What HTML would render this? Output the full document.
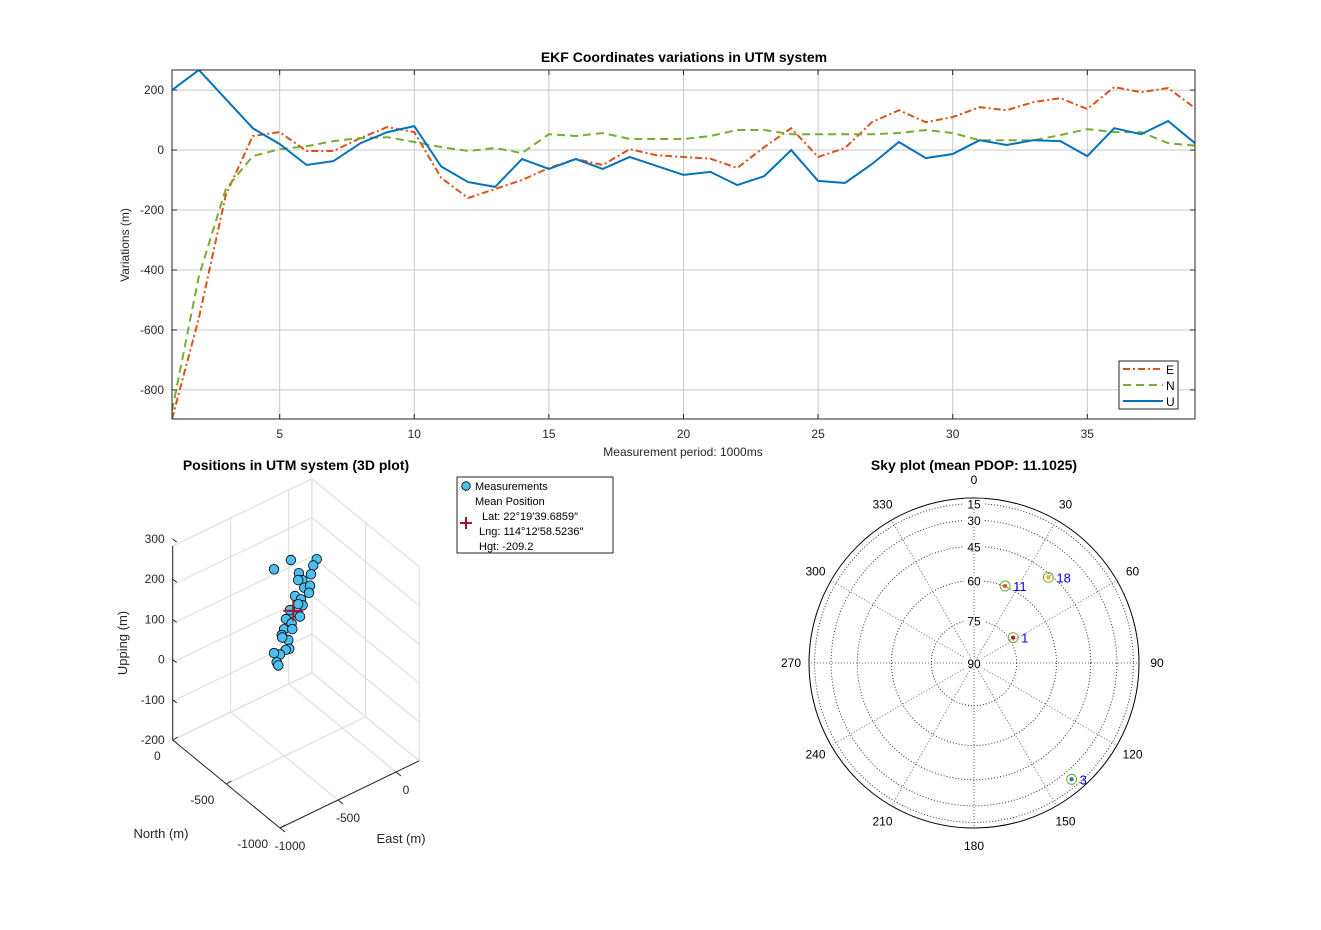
<!DOCTYPE html>
<html><head><meta charset="utf-8">
<style>
html,body{margin:0;padding:0;background:#fff;}
svg{display:block;font-family:"Liberation Sans","DejaVu Sans",sans-serif;}
</style></head>
<body>
<svg id="fig" width="1321" height="930" viewBox="0 0 1321 930" xmlns="http://www.w3.org/2000/svg">
<rect x="0" y="0" width="1321" height="930" fill="#fff"/>
<g id="top"></g>
<g id="p3d"></g>
<g id="sky"></g>
</svg>
<script>
// ---- top chart data ----
const epochs = [1,2,3,4,5,6,7,8,9,10,11,12,13,14,15,16,17,18,19,20,21,22,23,24,25,26,27,28,29,30,31,32,33,34,35,36,37,38,39];
const eastVals = [-897,-560,-150,47,60,-3,-3,40,77,60,-93,-160,-130,-100,-60,-30,-50,3,-17,-23,-29,-60,10,73,-23,7,93,133,93,110,143,133,160,173,137,210,193,207,140];
const northVals = [-870,-420,-130,-20,3,13,30,40,43,27,10,-3,7,-10,53,47,57,37,37,37,47,67,67,53,53,53,53,57,67,57,33,33,33,50,70,60,60,23,15];
const upVals = [200,267,170,73,20,-50,-37,23,60,80,-55,-107,-123,-30,-63,-30,-63,-23,-53,-83,-73,-117,-87,0,-103,-110,-47,27,-27,-13,33,17,33,30,-20,73,53,97,23];
const xTicks = [5,10,15,20,25,30,35];
const yTicks = [-800,-600,-400,-200,0,200];
// ---- 3D plot data ----
const measE = [-543,-397,-175,-204,-328,-224,-299,-334,-282,-233,-241,-362,-310,-296,-334,-391,-319,-440,-391,-457,-385,-477,-420,-472,-411,-442,-491,-543,-520,-506,-405];
const measN = [-450,-450,-450,-450,-450,-450,-450,-450,-450,-450,-450,-450,-450,-450,-450,-450,-450,-450,-450,-450,-450,-450,-450,-450,-450,-450,-450,-450,-450,-450,-450];
const measU = [276,279,249,237,235,217,213,218,191,189,172,181,165,148,156,141,122,133,115,109,99,97,76,90,52,54,49,60,33,23,151];
const meanPos = [-377,-450,145];
const zTicks = [-200,-100,0,100,200,300];
const nTicks = [0,-500,-1000];
const eTicks = [-1000,-500,0];
// ---- sky plot data ----
const satIds = ["1","11","18","3"];
const satAz = [57,22,41,140];
const satEl = [73.6,59.8,46.6,23];
const satColors = ["#a2142f","#d95319","#edb120","#0072bd"];
const elevRings = [15,30,45,60,75];
const elevLabels = [15,30,45,60,75,90];
const azLabels = [0,30,60,90,120,150,180,210,240,270,300,330];

const NS="http://www.w3.org/2000/svg";
function mk(parent,tag,attrs,text){const e=document.createElementNS(NS,tag);for(const k in attrs)e.setAttribute(k,attrs[k]);if(text!==undefined)e.textContent=text;parent.appendChild(e);return e;}

// ===== top chart =====
(function(){
const g=document.getElementById('top');
const L=172,R=1195,T=70,B=419,xmin=1,xmax=39,ymin=-897,ymax=267;
const X=v=>L+(v-xmin)/(xmax-xmin)*(R-L);
const Y=v=>B-(v-ymin)/(ymax-ymin)*(B-T);
let t;
t=mk(g,'text',{x:684,y:62,'text-anchor':'middle','font-size':14,'font-weight':'bold',fill:'#000'},'EKF Coordinates variations in UTM system');

xTicks.forEach(v=>{
 let l=mk(g,'line',{x1:X(v),x2:X(v),y1:T,y2:B,stroke:'#c8c8c8','stroke-width':1});
 
 mk(g,'line',{x1:X(v),x2:X(v),y1:B,y2:B-5,stroke:'#262626'});
 mk(g,'line',{x1:X(v),x2:X(v),y1:T,y2:T+5,stroke:'#262626'});
 let tx=mk(g,'text',{x:X(v),y:B+19,'text-anchor':'middle','font-size':12,fill:'#262626'},String(v));
 
});
yTicks.forEach(v=>{
 let l=mk(g,'line',{x1:L,x2:R,y1:Y(v),y2:Y(v),stroke:'#c8c8c8','stroke-width':1});
 
 mk(g,'line',{x1:L,x2:L+5,y1:Y(v),y2:Y(v),stroke:'#262626'});
 mk(g,'line',{x1:R,x2:R-5,y1:Y(v),y2:Y(v),stroke:'#262626'});
 let tx=mk(g,'text',{x:L-8,y:Y(v)+4,'text-anchor':'end','font-size':12,fill:'#262626'},String(v));
 
});
const series=[[eastVals,'#d95319','7 3 2 3','line-east'],[northVals,'#77ac30','8 5','line-north'],[upVals,'#0072bd','','line-up']];
const clip=mk(g,'clipPath',{id:'topclip'});mk(clip,'rect',{x:L,y:T,width:R-L,height:B-T});
series.forEach(s=>{
 const d=s[0].map((v,i)=>(i?'L':'M')+X(epochs[i]).toFixed(1)+' '+Y(v).toFixed(1)).join(' ');
 const p=mk(g,'path',{d:d,fill:'none',stroke:s[1],'stroke-width':2,'stroke-dasharray':s[2],'clip-path':'url(#topclip)'});
 
});
let box=mk(g,'rect',{x:L,y:T,width:R-L,height:B-T,fill:'none',stroke:'#262626','stroke-width':1});

t=mk(g,'text',{x:683,y:456,'text-anchor':'middle','font-size':12,fill:'#262626'},'Measurement period: 1000ms');

t=mk(g,'text',{x:129,y:245,'text-anchor':'middle','font-size':12,fill:'#262626',transform:'rotate(-90 129 245)'},'Variations (m)');

const lg=mk(g,'g',{});
mk(lg,'rect',{x:1119,y:361,width:59,height:48,fill:'#fff',stroke:'#262626'});
[['E','#d95319','7 3 2 3'],['N','#77ac30','8 5'],['U','#0072bd','']].forEach((e,i)=>{
 const y=369+i*16;
 const le=mk(lg,'g',{});
 mk(le,'line',{x1:1123,x2:1163,y1:y,y2:y,stroke:e[1],'stroke-width':2,'stroke-dasharray':e[2]});
 mk(le,'text',{x:1166,y:y+5,'font-size':12,fill:'#000'},e[0]);
});
})();

// ===== 3D plot =====
(function(){
const g=document.getElementById('p3d');
const P=(e,n,u)=>[280+(n+1000)*(-0.1073)+(e+1000)*0.116, 828+(n+1000)*(-0.088)+(e+1000)*(-0.056)-(u+200)*0.388];
const Emin=-1000,Emax=200,Nmin=-1000,Nmax=0,Umin=-200,Umax=300;
const grid='#dcdcdc';
function ln(a,b,c,w,name){const l=mk(g,'line',{x1:a[0],y1:a[1],x2:b[0],y2:b[1],stroke:c,'stroke-width':w||1});if(name){}return l;}
let t=mk(g,'text',{x:296,y:470,'text-anchor':'middle','font-size':14,'font-weight':'bold',fill:'#000'},'Positions in UTM system (3D plot)');

zTicks.forEach(u=>{ln(P(Emin,Nmax,u),P(Emax,Nmax,u),grid,1,'z-gridline');ln(P(Emax,Nmax,u),P(Emax,Nmin,u),grid,1,'z-gridline');});
eTicks.concat([Emax]).forEach(e=>{ln(P(e,Nmax,Umin),P(e,Nmax,Umax),grid,1,'e-gridline');ln(P(e,Nmin,Umin),P(e,Nmax,Umin),grid,1,'e-gridline');});
nTicks.forEach(n=>{ln(P(Emax,n,Umin),P(Emax,n,Umax),grid,1,'n-gridline');ln(P(Emin,n,Umin),P(Emax,n,Umin),grid,1,'n-gridline');});
ln(P(Emin,Nmax,Umin),P(Emin,Nmax,Umax),'#262626',1,'z-axis');
ln(P(Emin,Nmax,Umin),P(Emin,Nmin,Umin),'#262626',1,'north-axis');
ln(P(Emin,Nmin,Umin),P(Emax,Nmin,Umin),'#262626',1,'east-axis');
zTicks.forEach(u=>{const p=P(Emin,Nmax,u);const py=p[1]-7*(u+200)/500;ln([p[0],py],[p[0]+4,py+3],'#262626');
 const tx=mk(g,'text',{x:p[0]-8,y:py+4,'text-anchor':'end','font-size':12,fill:'#262626'},String(u));});
nTicks.forEach(n=>{const p=P(Emin,n,Umin);ln(p,[p[0]+5,p[1]-3],'#262626');
 const tx=mk(g,'text',{x:p[0]-12,y:p[1]+20,'text-anchor':'end','font-size':12,fill:'#262626'},String(n));});
eTicks.forEach(e=>{const p=P(e,Nmin,Umin);ln(p,[p[0]+5,p[1]+4],'#262626');
 const tx=mk(g,'text',{x:p[0]+10,y:p[1]+22,'text-anchor':'middle','font-size':12,fill:'#262626'},String(e));});
t=mk(g,'text',{x:161,y:838,'text-anchor':'middle','font-size':13,fill:'#262626'},'North (m)');
t=mk(g,'text',{x:401,y:843,'text-anchor':'middle','font-size':13,fill:'#262626'},'East (m)');
t=mk(g,'text',{x:127,y:643,'text-anchor':'middle','font-size':13,fill:'#262626',transform:'rotate(-90 127 643)'},'Upping (m)');
measE.forEach((e,i)=>{const p=P(e,measN[i],measU[i]);
 const c=mk(g,'circle',{cx:p[0].toFixed(1),cy:p[1].toFixed(1),r:4.8,fill:'#4dbeee',stroke:'#000','stroke-width':0.8});
 });
const m=P(meanPos[0],meanPos[1],meanPos[2]);
const mg=mk(g,'g',{});
mk(mg,'line',{x1:m[0]-10,x2:m[0]+10,y1:m[1],y2:m[1],stroke:'#a2142f','stroke-width':2});
mk(mg,'line',{x1:m[0],x2:m[0],y1:m[1]-10,y2:m[1]+10,stroke:'#a2142f','stroke-width':2});
const lg=mk(g,'g',{});
mk(lg,'rect',{x:457,y:477,width:156,height:76,fill:'#fff',stroke:'#262626'});
mk(lg,'circle',{cx:466,cy:486,r:4.3,fill:'#4dbeee',stroke:'#000','stroke-width':0.8});
mk(lg,'text',{x:475,y:490,'font-size':11,fill:'#000'},'Measurements');
mk(lg,'text',{x:475,y:505,'font-size':11,fill:'#000'},'Mean Position');
mk(lg,'line',{x1:460,x2:472,y1:523,y2:523,stroke:'#a2142f','stroke-width':2});
mk(lg,'line',{x1:466,x2:466,y1:517,y2:529,stroke:'#a2142f','stroke-width':2});
mk(lg,'text',{x:482,y:520,'font-size':11,fill:'#000'},'Lat: 22°19′39.6859″');
mk(lg,'text',{x:479,y:535,'font-size':11,fill:'#000'},'Lng: 114°12′58.5236″');
mk(lg,'text',{x:479,y:550,'font-size':11,fill:'#000'},'Hgt: -209.2');
})();

// ===== sky plot =====
(function(){
const g=document.getElementById('sky');
const cx=974,cy=663,Rr=165;
const rad=el=>Rr*Math.cos(el*Math.PI/180);
const pt=(az,r)=>[cx+r*Math.sin(az*Math.PI/180),cy-r*Math.cos(az*Math.PI/180)];
let t=mk(g,'text',{x:974,y:470,'text-anchor':'middle','font-size':14,'font-weight':'bold',fill:'#000'},'Sky plot (mean PDOP: 11.1025)');

elevRings.forEach(el=>{const c=mk(g,'circle',{cx:cx,cy:cy,r:rad(el).toFixed(1),fill:'none',stroke:'#333','stroke-width':1,'stroke-dasharray':'1 2'});
 });
azLabels.forEach(az=>{const a=pt(az,0),b=pt(az,Rr);
 const l=mk(g,'line',{x1:a[0],y1:a[1],x2:b[0],y2:b[1],stroke:'#666','stroke-width':1,'stroke-dasharray':'1 2'});
 });
const oc=mk(g,'circle',{cx:cx,cy:cy,r:Rr,fill:'none',stroke:'#000','stroke-width':1});

azLabels.forEach(az=>{const p=pt(az,183);
 const tx=mk(g,'text',{x:p[0].toFixed(1),y:(p[1]+4).toFixed(1),'text-anchor':'middle','font-size':12,fill:'#000'},String(az));
 });
elevLabels.forEach(el=>{const y=cy-rad(el);
 mk(g,'rect',{x:cx-10,y:y-5,width:20,height:10,fill:'#fff'});
 const tx=mk(g,'text',{x:cx,y:y+5,'text-anchor':'middle','font-size':12,fill:'#000'},String(el));
 });
satIds.forEach((id,i)=>{const p=pt(satAz[i],rad(satEl[i]));
 const sg=mk(g,'g',{});
 mk(sg,'circle',{cx:p[0].toFixed(1),cy:p[1].toFixed(1),r:5,fill:'none',stroke:'#77ac30','stroke-width':1});
 mk(sg,'circle',{cx:p[0].toFixed(1),cy:p[1].toFixed(1),r:2,fill:satColors[i]});
 mk(sg,'text',{x:(p[0]+8).toFixed(1),y:(p[1]+5).toFixed(1),'font-size':13,fill:'#0000ee'},id);});
})();
</script>
</body></html>
